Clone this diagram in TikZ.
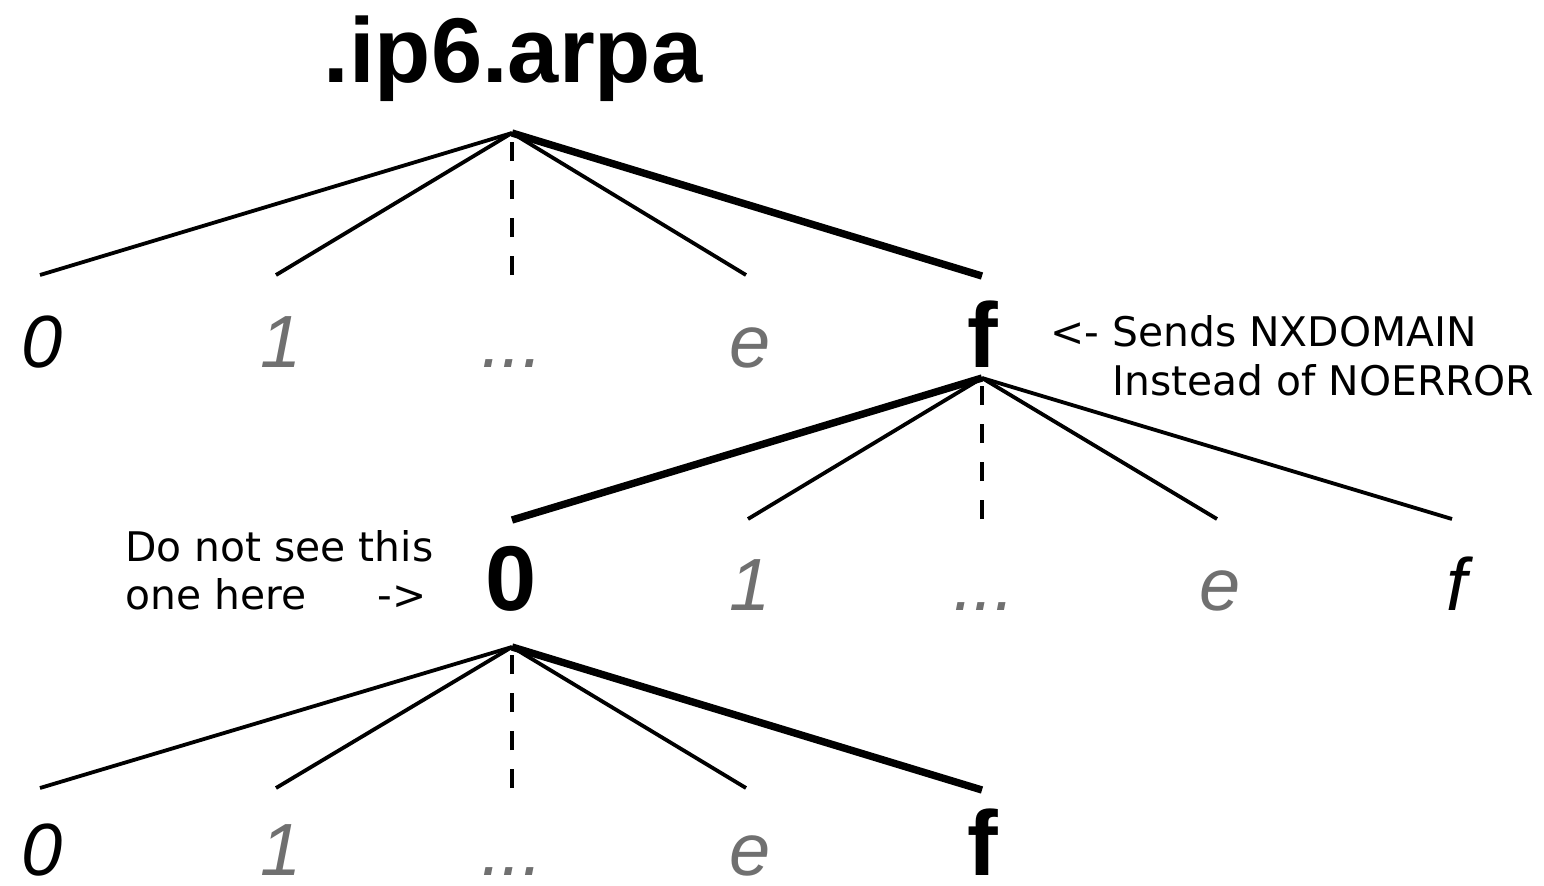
\documentclass[tikz,border=0pt]{standalone}
\usepackage{fontspec}
\setmainfont{Liberation Sans}
\newfontfamily\notefont{DejaVu Sans}
\definecolor{dimgray}{RGB}{112,112,112}
\begin{document}
\begin{tikzpicture}[x=0.5pt,y=-0.5pt,
  edge/.style={line width=1.9pt},
  hot/.style={line width=3.7pt},
  elided/.style={line width=1.9pt, dash pattern=on 9.5pt off 9.5pt},
  lbl/.style={anchor=base, inner sep=0pt, font=\fontsize{37}{37}\selectfont\itshape},
  dim/.style={lbl, text=dimgray},
  hit/.style={anchor=base, inner sep=0pt, font=\fontsize{46}{46}\selectfont\bfseries},
  note/.style={anchor=base west, inner sep=0pt, font=\notefont\fontsize{20.4}{24}\selectfont}]
\useasboundingbox (0,0) rectangle (1544,885);

% zone title and its fan-out point
\node[hit] (root) at (513,82) {.ip6.arpa};
\coordinate (r0) at (512,133);

% first nibble
\coordinate (a0) at (40,275);
\coordinate (a1) at (276,275);
\coordinate (a2) at (512,275);
\coordinate (a3) at (746,275);
\coordinate (a4) at (982,276);
\node[lbl] (l0) at (42,367) {0};
\node[dim] (l1) at (281,367) {1};
\node[dim] (l2) at (512,367) {...};
\node[dim] (l3) at (750,367) {e};
\node[hit] (l4) at (983,367) {f};
\draw[edge] (r0) -- (a0);
\draw[edge] (r0) -- (a1);
\draw[elided] (a2) -- (r0);
\draw[edge] (r0) -- (a3);
\draw[hot] (r0) -- (a4);

% second nibble under f
\coordinate (r1) at (982,378);
\coordinate (b0) at (512,520);
\coordinate (b1) at (748,519);
\coordinate (b2) at (982,519);
\coordinate (b3) at (1217,519);
\coordinate (b4) at (1452,519);
\node[hit] (m0) at (511,610) {0};
\node[dim] (m1) at (750,610) {1};
\node[dim] (m2) at (984,610) {...};
\node[dim] (m3) at (1220,610) {e};
\node[lbl] (m4) at (1457,610) {f};
\draw[hot] (r1) -- (b0);
\draw[edge] (r1) -- (b1);
\draw[elided] (b2) -- (r1);
\draw[edge] (r1) -- (b3);
\draw[edge] (r1) -- (b4);

% third nibble under 0
\coordinate (r2) at (512,647);
\coordinate (c0) at (40,788);
\coordinate (c1) at (276,788);
\coordinate (c2) at (512,788);
\coordinate (c3) at (746,788);
\coordinate (c4) at (982,790);
\node[lbl] (n0) at (42,875) {0};
\node[dim] (n1) at (281,875) {1};
\node[dim] (n2) at (512,875) {...};
\node[dim] (n3) at (750,875) {e};
\node[hit] (n4) at (983,875) {f};
\draw[edge] (r2) -- (c0);
\draw[edge] (r2) -- (c1);
\draw[elided] (c2) -- (r2);
\draw[edge] (r2) -- (c3);
\draw[hot] (r2) -- (c4);

% remarks
\node[note] (s1) at (1050,346) {<- Sends NXDOMAIN};
\node[note] (s2) at (1050,395) {\phantom{<- }Instead of NOERROR};
\node[note] (d1) at (125,561) {Do not see this};
\node[note] (d2) at (125,609) {one here};
\node[note, anchor=base east] (d3) at (427,609) {->};
\end{tikzpicture}
\end{document}
